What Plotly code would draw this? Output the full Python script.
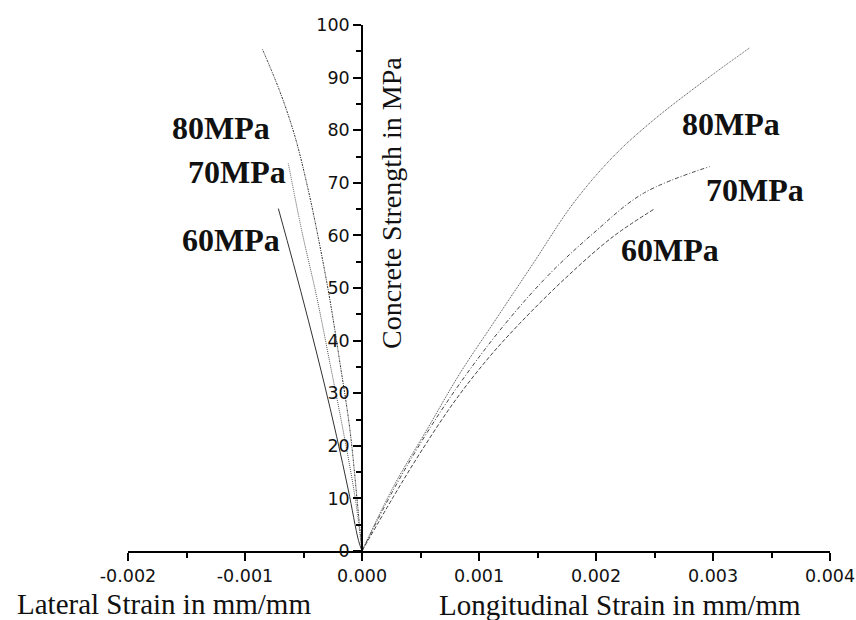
import plotly.graph_objects as go

# Lateral strain (negative) vs stress, per concrete grade
lat_80_x = [0.0, -0.000031, -0.000103, -0.000188, -0.000274, -0.000359, -0.000459, -0.000573, -0.000701, -0.000851]
lat_80_y = [0.0, 7.2, 23.0, 35.7, 47.7, 57.9, 68.6, 78.8, 87.3, 95.4]

lat_70_x = [0.0, -0.000060, -0.000162, -0.000274, -0.000387, -0.000516, -0.000630]
lat_70_y = [0.0, 10.3, 23.0, 35.7, 48.3, 61.0, 73.7]

lat_60_x = [0.0, -0.000030, -0.000117, -0.000216, -0.000330, -0.000459, -0.000587, -0.000715]
lat_60_y = [0.0, 2.0, 11.6, 21.7, 32.5, 43.9, 54.7, 65.1]

# Longitudinal strain vs stress, per concrete grade
lon_80_x = [0.0, 0.000268, 0.000553, 0.000838, 0.001122, 0.001464, 0.001806, 0.002148, 0.002490, 0.002974, 0.003310]
lon_80_y = [0.0, 12.2, 23.0, 33.8, 43.3, 54.7, 66.1, 75.0, 81.9, 90.2, 95.6]

lon_70_x = [0.0, 0.000268, 0.000553, 0.000838, 0.001180, 0.001578, 0.001977, 0.002405, 0.002974]
lon_70_y = [0.0, 11.6, 22.4, 31.9, 42.0, 52.1, 60.4, 68.0, 73.1]

lon_60_x = [0.0, 0.000268, 0.000496, 0.000780, 0.001066, 0.001350, 0.001750, 0.002148, 0.002504]
lon_60_y = [0.0, 10.3, 18.6, 28.1, 36.3, 43.3, 52.1, 59.8, 65.1]

x_ticks = [-0.002, -0.001, 0.0, 0.001, 0.002, 0.003, 0.004]
x_tick_text = ["-0.002", "-0.001", "0.000", "0.001", "0.002", "0.003", "0.004"]
y_ticks = [0, 10, 20, 30, 40, 50, 60, 70, 80, 90, 100]

grade_labels_left = ["80MPa", "70MPa", "60MPa"]
grade_labels_left_x = [-0.001205, -0.001068, -0.00112]
grade_labels_left_y = [80.4, 72.1, 59.1]
grade_labels_right = ["80MPa", "70MPa", "60MPa"]
grade_labels_right_x = [0.003154, 0.003359, 0.002632]
grade_labels_right_y = [81.2, 68.6, 57.2]

fig = go.Figure()

series = [
    (lat_80_x, lat_80_y, "#333333", "2px,1px,1px,1px"),
    (lat_70_x, lat_70_y, "#555555", "1px,1px"),
    (lat_60_x, lat_60_y, "#333333", "solid"),
    (lon_80_x, lon_80_y, "#444444", "1px,1px"),
    (lon_70_x, lon_70_y, "#444444", "4px,2px,1px,2px"),
    (lon_60_x, lon_60_y, "#444444", "4px,2px"),
]
for xs, ys, col, dash in series:
    fig.add_trace(go.Scatter(
        x=xs, y=ys, mode="lines",
        line=dict(color=col, width=1, dash=dash, shape="spline", smoothing=1.0),
        showlegend=False, hoverinfo="skip",
    ))

label_font = dict(family="Liberation Serif, Times New Roman, serif", size=32, color="#111111")
for txt, x, y in zip(grade_labels_left + grade_labels_right,
                     grade_labels_left_x + grade_labels_right_x,
                     grade_labels_left_y + grade_labels_right_y):
    fig.add_annotation(x=x, y=y, xref="x", yref="y", text="<b>" + txt + "</b>",
                       showarrow=False, font=label_font, xanchor="center", yanchor="middle")

title_font = dict(family="Liberation Serif, Times New Roman, serif", size=29, color="#111111")
fig.add_annotation(x=0.0513, y=-0.100, xref="paper", yref="paper",
                   text="Lateral Strain in mm/mm", showarrow=False, font=title_font,
                   xanchor="center", yanchor="middle")
fig.add_annotation(x=0.7009, y=-0.102, xref="paper", yref="paper",
                   text="Longitudinal Strain in mm/mm", showarrow=False, font=title_font,
                   xanchor="center", yanchor="middle")
fig.add_annotation(x=0.376, y=0.6616, xref="paper", yref="paper",
                   text="Concrete Strength in MPa", textangle=-90,
                   showarrow=False, font=dict(title_font, size=28),
                   xanchor="center", yanchor="middle")

tick_font = dict(family="DejaVu Sans, Arial, sans-serif", size=17.5, color="#111111")

fig.update_layout(
    width=856, height=620,
    margin=dict(l=128, r=26, t=25, b=69, autoexpand=False),
    plot_bgcolor="white", paper_bgcolor="white",
    xaxis=dict(
        range=[-0.002, 0.004], tickvals=x_ticks, ticktext=x_tick_text,
        showline=True, linecolor="black", linewidth=1.5,
        ticks="outside", ticklen=8, tickwidth=1.5, tickcolor="black",
        minor=dict(ticks="outside", ticklen=5, dtick=0.0005, tickcolor="black", tickwidth=1.5),
        showgrid=False, zeroline=False, tickfont=tick_font, automargin=False,
    ),
    yaxis=dict(
        range=[0, 100], tickvals=y_ticks,
        anchor="free", position=1 / 3,
        showline=True, linecolor="black", linewidth=1.5,
        ticks="outside", ticklen=8, tickwidth=1.5, tickcolor="black",
        minor=dict(ticks="outside", ticklen=5, dtick=5, tickcolor="black", tickwidth=1.5),
        showgrid=False, zeroline=False, tickfont=tick_font, automargin=False,
    ),
)

fig.write_html("out.html")
